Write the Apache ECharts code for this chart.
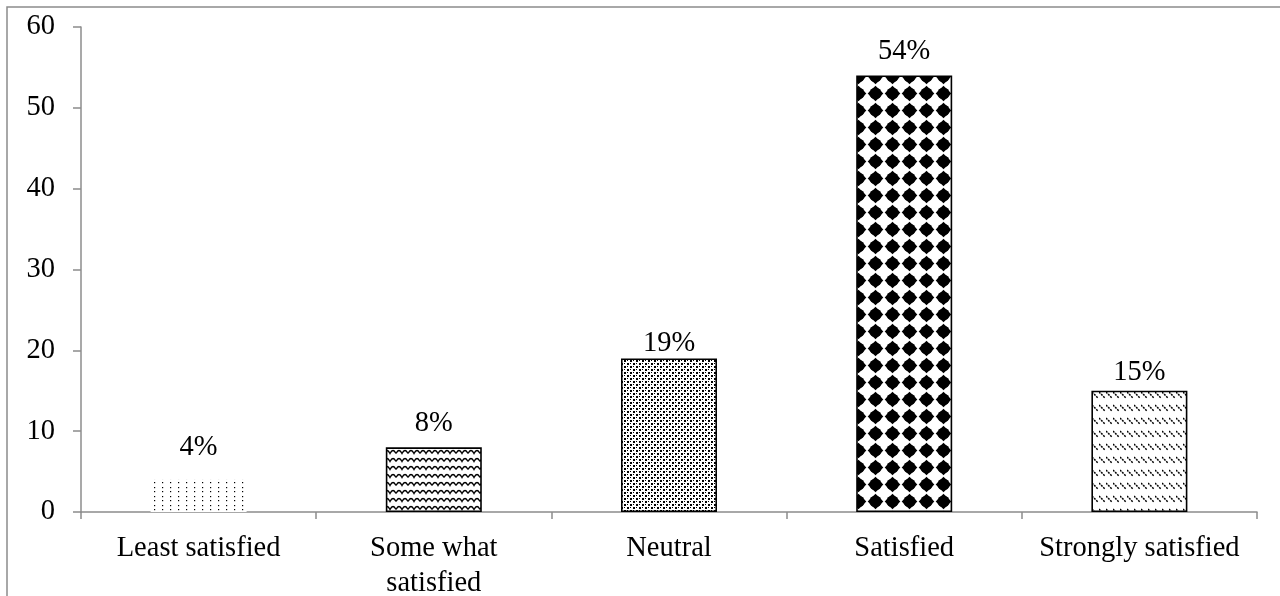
<!DOCTYPE html>
<html>
<head>
<meta charset="utf-8">
<title>Satisfaction levels</title>
<script src="https://cdn.jsdelivr.net/npm/echarts@6/dist/echarts.min.js"></script>
<style>
  html, body { margin: 0; padding: 0; background: #fff; }
  #chart { width: 1280px; height: 596px; }
</style>
</head>
<body>
<div id="chart"></div>
<script>
// Survey results: share of respondents per satisfaction level (%)
const categories = ['Least satisfied', 'Some what\nsatisfied', 'Neutral', 'Satisfied', 'Strongly satisfied'];
const shares = [4, 8, 19, 54, 15];
const yMin = 0;
const yMax = 60;
const yStep = 10;

// gap between each bar top and its percentage label
const labelLift = [18, 9, 0, 9, 4];

const FONT = '"Liberation Serif", "Times New Roman", serif';
const FONT_SIZE = 28.5;
const AXIS_GREY = '#8c8c8c';

function tile(w, h, draw) {
  const c = document.createElement('canvas');
  c.width = w; c.height = h;
  const g = c.getContext('2d');
  g.fillStyle = '#fff';
  g.fillRect(0, 0, w, h);
  g.fillStyle = '#000';
  g.strokeStyle = '#000';
  draw(g, w, h);
  return { image: c, repeat: 'repeat' };
}

// sparse dots
const sparseDots = tile(8, 9, g => {
  g.fillRect(2, 1, 1.2, 1.2);
  g.fillRect(2, 5, 1.2, 1.2);
});

// wavy zigzag lines
const waves = tile(12, 8, g => {
  g.lineWidth = 1.3;
  g.beginPath();
  g.moveTo(0, 5.5);
  g.quadraticCurveTo(1.5, 2.5, 3, 2.5);
  g.quadraticCurveTo(4.5, 2.5, 6, 5.5);
  g.quadraticCurveTo(7.5, 2.5, 9, 2.5);
  g.quadraticCurveTo(10.5, 2.5, 12, 5.5);
  g.stroke();
});

// dense fine dots
const fineDots = tile(6, 6, g => {
  g.fillRect(0, 0, 2, 2);
  g.fillRect(3, 3, 2, 2);
  g.fillRect(3, 0, 1, 1);
  g.fillRect(0, 3, 1, 1);
});

// large rounded diamonds
const diamonds = tile(17, 17, g => {
  const c = 8.5;
  g.beginPath();
  g.moveTo(c, c - 7.8);
  g.lineTo(c + 7.8, c);
  g.lineTo(c, c + 7.8);
  g.lineTo(c - 7.8, c);
  g.closePath();
  g.fill();
  g.beginPath();
  g.arc(c, c, 6.1, 0, Math.PI * 2);
  g.fill();
});

// short dotted backslash dashes in rows
const dashes = tile(7, 13, g => {
  g.lineWidth = 1.5;
  g.setLineDash([2, 1]);
  g.beginPath();
  g.moveTo(0, 2);
  g.lineTo(6, 8);
  g.stroke();
});

const fills = [sparseDots, waves, fineDots, diamonds, dashes];

const chart = echarts.init(document.getElementById('chart'), null, { renderer: 'canvas' });

chart.setOption({
  animation: false,
  backgroundColor: '#fff',
  textStyle: { fontFamily: FONT, color: '#000' },
  graphic: [{
    type: 'rect',
    shape: { x: 7, y: 7, width: 1300, height: 620 },
    style: { fill: 'none', stroke: AXIS_GREY, lineWidth: 1.5 },
    silent: true
  }],
  grid: {
    left: 81, right: 23, top: 27, bottom: 84,
    containLabel: false,
    outerBoundsMode: 'none'
  },
  xAxis: {
    type: 'category',
    data: categories,
    axisLine: { show: true, lineStyle: { color: AXIS_GREY, width: 1.5 } },
    axisTick: { show: true, length: 7, lineStyle: { color: AXIS_GREY, width: 1.5 } },
    axisLabel: {
      color: '#000', fontFamily: FONT, fontSize: FONT_SIZE, lineHeight: 35,
      margin: 19, interval: 0
    },
    splitLine: { show: false }
  },
  yAxis: {
    type: 'value',
    min: yMin,
    max: yMax,
    interval: yStep,
    axisLine: { show: true, lineStyle: { color: AXIS_GREY, width: 1.5 } },
    axisTick: { show: true, length: 8, lineStyle: { color: AXIS_GREY, width: 1.5 } },
    axisLabel: {
      color: '#000', fontFamily: FONT, fontSize: FONT_SIZE, margin: 26,
      padding: [5, 0, 0, 0]
    },
    splitLine: { show: false }
  },
  series: [{
    type: 'bar',
    barWidth: 96,
    data: shares.map((v, i) => ({
      value: v,
      itemStyle: {
        color: fills[i],
        borderColor: '#000',
        borderWidth: i === 0 ? 0 : 1.6
      },
      label: { distance: labelLift[i] }
    })),
    label: {
      show: true,
      position: 'top',
      formatter: '{c}%',
      color: '#000',
      fontFamily: FONT,
      fontSize: FONT_SIZE
    }
  }]
});
</script>
</body>
</html>
